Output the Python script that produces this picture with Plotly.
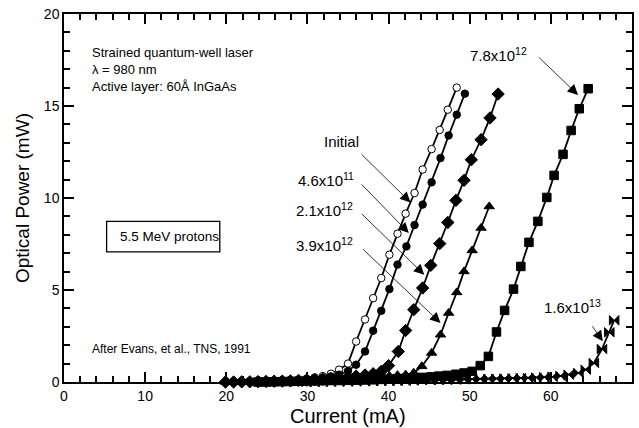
import plotly.graph_objects as go

# ---------------- data ----------------
x_initial = [19.9, 20.9, 21.9, 22.9, 23.9, 24.9, 25.9, 26.9, 27.9, 28.9, 29.9, 30.9, 31.9, 32.9, 33.9,
             35.0, 36.0, 37.1, 38.1, 39.1, 40.1, 41.1, 42.1, 43.2, 44.2, 45.3, 46.3, 47.3, 48.4]
y_initial = [0.02, 0.03, 0.03, 0.04, 0.05, 0.06, 0.07, 0.09, 0.11, 0.14, 0.18, 0.25, 0.32, 0.45, 0.67,
             1.0, 2.2, 3.4, 4.56, 5.65, 6.92, 8.06, 9.15, 10.27, 11.55, 12.66, 13.7, 14.8, 16.0]

x_46e11 = [19.9, 20.9, 21.9, 22.9, 23.9, 24.9, 25.9, 26.9, 27.9, 28.9, 29.9, 30.9, 31.9, 32.9, 33.9,
           35.0, 36.0, 37.1, 38.1, 39.1, 40.1, 41.1, 42.2, 43.2, 44.2, 45.3, 46.4, 47.4, 48.4, 49.4]
y_46e11 = [0.0, 0.01, 0.02, 0.03, 0.03, 0.04, 0.05, 0.06, 0.08, 0.1, 0.13, 0.17, 0.23, 0.3, 0.4,
           0.6, 0.94, 1.66, 2.79, 3.87, 5.05, 6.38, 7.37, 8.53, 9.64, 10.85, 12.17, 13.4, 14.53, 15.67]

x_21e12 = [19.9, 20.9, 21.9, 22.9, 23.9, 24.9, 25.9, 26.9, 27.9, 28.9, 29.9, 30.9, 31.9, 32.9, 33.9,
           35.0, 36.0, 37.1, 38.1, 39.1, 40.0, 41.2, 42.1, 43.1, 44.2, 45.2, 46.3, 47.3, 48.3, 49.3,
           50.2, 51.4, 52.5, 53.5]
y_21e12 = [0.0, 0.0, 0.01, 0.01, 0.02, 0.03, 0.04, 0.05, 0.06, 0.08, 0.1, 0.12, 0.15, 0.18, 0.22,
           0.27, 0.32, 0.38, 0.45, 0.58, 0.89, 1.66, 2.8, 3.93, 5.11, 6.34, 7.52, 8.67, 9.87, 10.96,
           12.08, 13.17, 14.35, 15.65]

x_39e12 = [19.9, 20.9, 21.9, 22.9, 23.9, 24.9, 25.9, 26.9, 27.9, 28.9, 29.9, 30.9, 31.9, 32.9, 33.9,
           35.0, 36.0, 37.1, 38.1, 39.1, 40.1, 41.1, 42.1, 43.1, 44.1, 45.3, 46.4, 47.4, 48.4, 49.3,
           50.3, 51.4, 52.4]
y_39e12 = [0.0, 0.0, 0.0, 0.01, 0.01, 0.02, 0.03, 0.04, 0.05, 0.06, 0.07, 0.09, 0.1, 0.12, 0.13,
           0.15, 0.17, 0.2, 0.24, 0.28, 0.33, 0.37, 0.4, 0.5, 0.85, 1.58, 2.57, 3.75, 4.87, 6.01,
           7.15, 8.37, 9.54]

x_78e12 = [19.9, 20.9, 21.9, 22.9, 23.9, 24.9, 25.9, 26.9, 27.9, 28.9, 29.9, 30.9, 31.9, 32.9, 33.9,
           35.0, 36.0, 37.1, 38.1, 39.1, 40.1, 41.1, 42.1, 43.1, 44.1, 45.2, 46.2, 47.2, 48.3, 49.3,
           50.3, 51.3, 52.3, 53.3, 54.3, 55.4, 56.3, 57.3, 58.4, 59.5, 60.4, 61.5, 62.5, 63.5, 64.6]
y_78e12 = [-0.02, -0.02, -0.01, -0.01, 0.0, 0.0, 0.01, 0.02, 0.03, 0.04, 0.05, 0.06, 0.07, 0.08, 0.08,
           0.09, 0.1, 0.11, 0.12, 0.14, 0.16, 0.18, 0.2, 0.22, 0.25, 0.28, 0.32, 0.36, 0.42, 0.49,
           0.58, 0.89, 1.39, 2.72, 3.89, 5.05, 6.28, 7.59, 8.73, 10.03, 11.23, 12.37, 13.67, 14.85, 15.94]

x_16e13 = [19.9, 20.9, 21.9, 22.9, 23.9, 24.9, 25.9, 26.9, 27.9, 28.9, 29.9, 30.9, 31.9, 32.9, 33.9,
           35.0, 36.0, 37.1, 38.1, 39.1, 40.1, 41.1, 42.1, 43.1, 44.1, 45.2, 46.2, 47.2, 48.3, 49.3,
           50.3, 51.3, 52.3, 53.3, 54.3, 55.3, 56.3, 57.2, 58.2, 59.2, 60.2, 61.2, 62.2, 63.4, 64.3,
           65.3, 66.3, 67.2, 67.8]
y_16e13 = [-0.05, -0.05, -0.04, -0.04, -0.03, -0.03, -0.02, -0.02, -0.01, -0.01, 0.0, 0.0, 0.01, 0.01, 0.02,
           0.02, 0.03, 0.03, 0.04, 0.05, 0.05, 0.06, 0.07, 0.08, 0.09, 0.1, 0.11, 0.12, 0.13, 0.14,
           0.15, 0.16, 0.17, 0.18, 0.19, 0.2, 0.21, 0.22, 0.24, 0.26, 0.28, 0.33, 0.4, 0.49, 0.67,
           1.03, 1.79, 2.7, 3.35]

FONT = "Arial, Liberation Sans, sans-serif"

series = [
    (x_initial, y_initial, "circle", "white", 7.5, "Initial"),
    (x_46e11, y_46e11, "circle", "black", 7.5, "4.6x10^11"),
    (x_21e12, y_21e12, "diamond", "black", 9.5, "2.1x10^12"),
    (x_39e12, y_39e12, "triangle-up", "black", 9, "3.9x10^12"),
    (x_78e12, y_78e12, "square", "black", 8.5, "7.8x10^12"),
    (x_16e13, y_16e13, "bowtie", "black", 9.5, "1.6x10^13"),
]

fig = go.Figure()
for xs, ys, sym, fill, size, name in series:
    fig.add_trace(go.Scatter(
        x=xs, y=ys, mode="lines+markers", name=name, cliponaxis=False,
        line=dict(color="black", width=1.8),
        marker=dict(symbol=sym, color=fill, size=size, line=dict(color="black", width=1)),
        showlegend=False,
    ))

annotations = []

# curve labels with arrows: (label, text right x, text y, tail x, tail y, tip x, tip y)
arrow_labels = [
    ("Initial", 36.6, 13.05, 36.5, 12.45, 42.7, 9.76),
    ("4.6x10<sup>11</sup>", 35.95, 11.0, 36.5, 10.82, 42.5, 8.1),
    ("2.1x10<sup>12</sup>", 35.9, 9.4, 36.5, 9.22, 44.4, 5.83),
    ("3.9x10<sup>12</sup>", 35.9, 7.5, 36.7, 7.28, 46.4, 3.21),
    ("7.8x10<sup>12</sup>", 57.3, 17.8, 58.4, 17.7, 63.35, 15.6),
    ("1.6x10<sup>13</sup>", 66.4, 4.1, 65.0, 3.11, 66.4, 2.21),
]
for txt, tx, ty, ax_, ay_, hx, hy in arrow_labels:
    annotations.append(dict(x=tx, y=ty, text=txt, showarrow=False, xanchor="right",
                            yanchor="middle", font=dict(family=FONT, size=15, color="black")))
    annotations.append(dict(x=hx, y=hy, ax=ax_, ay=ay_, axref="x", ayref="y", xref="x", yref="y",
                            text="", showarrow=True, arrowhead=2, arrowsize=2.6, arrowwidth=0.8,
                            arrowcolor="black"))

annotations += [
    dict(x=3.2, y=18.45, xref="x", yref="y", xanchor="left", yanchor="top", align="left",
         showarrow=False, text="Strained quantum-well laser<br>λ = 980 nm<br>Active layer: 60Å InGaAs",
         font=dict(family=FONT, size=13, color="black")),
    dict(x=6.6, y=7.9, xref="x", yref="y", xanchor="left", yanchor="middle", showarrow=False,
         text="5.5 MeV protons", font=dict(family=FONT, size=13.5, color="black")),
    dict(x=3.2, y=1.8, xref="x", yref="y", xanchor="left", yanchor="middle", showarrow=False,
         text="After Evans, et al., TNS, 1991", font=dict(family=FONT, size=12, color="black")),
    dict(x=0.5, y=0, xref="paper", yref="paper", xanchor="center", yanchor="middle", yshift=-34,
         showarrow=False, text="Current (mA)", font=dict(family=FONT, size=20, color="black")),
    dict(x=0, y=0.5, xref="paper", yref="paper", xanchor="center", yanchor="middle", xshift=-42,
         textangle=-90, showarrow=False, text="Optical Power (mW)",
         font=dict(family=FONT, size=19, color="black")),
]

fig.add_shape(type="rect", xref="x", yref="y", x0=5.25, x1=19.2, y0=7.07, y1=8.73,
              line=dict(color="black", width=1.3), fillcolor="rgba(0,0,0,0)")

fig.update_layout(
    width=639, height=428,
    margin=dict(l=64, r=5, t=14, b=46),
    paper_bgcolor="white", plot_bgcolor="white",
    annotations=annotations,
)

fig.update_xaxes(
    range=[0, 70], tickmode="linear", tick0=0, dtick=10,
    showline=True, linecolor="black", linewidth=1.5, mirror="allticks",
    ticks="inside", ticklen=10, tickwidth=1.5, tickcolor="black",
    showgrid=False, zeroline=False,
    tickfont=dict(family=FONT, size=14, color="black"),
    minor=dict(tickmode="linear", tick0=0, dtick=2, ticks="inside", ticklen=6,
               tickcolor="black", tickwidth=1.5, showgrid=False),
)
fig.update_yaxes(
    range=[0, 20], tickmode="linear", tick0=0, dtick=5,
    showline=True, linecolor="black", linewidth=1.5, mirror="allticks",
    ticks="inside", ticklen=10, tickwidth=1.5, tickcolor="black",
    showgrid=False, zeroline=False,
    tickfont=dict(family=FONT, size=14, color="black"),
    minor=dict(tickmode="linear", tick0=0, dtick=1, ticks="inside", ticklen=6.5,
               tickcolor="black", tickwidth=1.5, showgrid=False),
)

fig.write_html("out.html")
